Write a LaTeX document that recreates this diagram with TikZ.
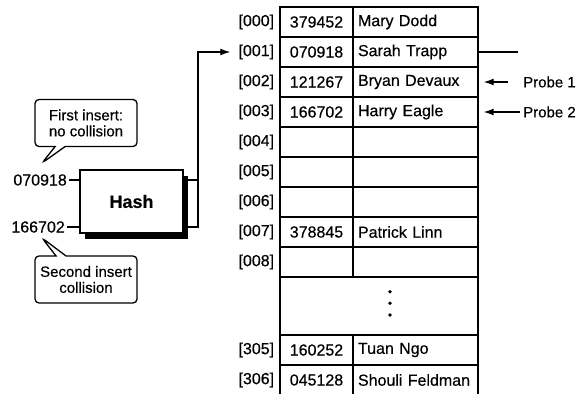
\documentclass[tikz,border=0pt]{standalone}
\usepackage{fontspec}
\setmainfont[FakeBold=0.4]{Liberation Sans}
\usetikzlibrary{arrows.meta,positioning,calc,shapes.callouts,shadows}
\tikzset{
  hscell/.style={draw, line width=1.4pt, minimum height=30pt, inner sep=0pt, font=\fontsize{16}{18}\selectfont},
  hsnum/.style={hscell, minimum width=73pt},
  hsname/.style={hscell, text width=115pt, inner xsep=5pt, align=left},
  hsidx/.style={inner sep=2pt, font=\fontsize{16}{18}\selectfont},
  hskey/.style={inner sep=2pt, font=\fontsize{16}{18}\selectfont},
  hsbox/.style={draw, fill=white, line width=1.4pt, minimum width=103pt, minimum height=63pt,
    font=\bfseries\fontsize{18}{20}\selectfont,
    drop shadow={shadow xshift=5pt, shadow yshift=-6pt, fill=black, opacity=1}},
  hsnote/.style={rectangle callout, draw, fill=white, line width=1.3pt, rounded corners=4pt,
    callout pointer width=10pt, minimum width=102pt, minimum height=47pt, align=center,
    inner sep=2pt, font=\fontsize{15}{16}\selectfont},
  hsarrow/.style={-{Latex[length=10pt,width=7pt]}, line width=1.3pt},
  hsline/.style={line width=1.3pt},
}

\begin{document}
\begin{tikzpicture}[x=1pt,y=-1pt]
  \useasboundingbox (0,0) rectangle (580,393);

  % hash table
  \node[hsnum] (num0) at (316.5,22) {379452};
  \node[hsname] (name0) at (415.5,22) {Mary Dodd};
  \node[hsnum] (num1) at (316.5,52) {070918};
  \node[hsname] (name1) at (415.5,52) {Sarah Trapp};
  \node[hsnum] (num2) at (316.5,82) {121267};
  \node[hsname] (name2) at (415.5,82) {Bryan Devaux};
  \node[hsnum] (num3) at (316.5,112) {166702};
  \node[hsname] (name3) at (415.5,112) {Harry Eagle};
  \node[hsnum] (num4) at (316.5,142) {};
  \node[hsname] (name4) at (415.5,142) {};
  \node[hsnum] (num5) at (316.5,172) {};
  \node[hsname] (name5) at (415.5,172) {};
  \node[hsnum] (num6) at (316.5,202) {};
  \node[hsname] (name6) at (415.5,202) {};
  \node[hsnum] (num7) at (316.5,232) {378845};
  \node[hsname] (name7) at (415.5,232) {Patrick Linn};
  \node[hsnum] (num8) at (316.5,262) {};
  \node[hsname] (name8) at (415.5,262) {};
  \node[hscell, minimum width=198pt, minimum height=58pt] (gap) at (379,306) {};
  \node[hsnum] (num305) at (316.5,350) {160252};
  \node[hsname] (name305) at (415.5,350) {Tuan Ngo};
  \node[hsnum] (num306) at (316.5,380) {045128};
  \node[hsname] (name306) at (415.5,380) {Shouli Feldman};

  \fill ($(gap.center)+(11,-14.3)$) circle (1.9pt);
  \fill ($(gap.center)+(11,-2.7)$) circle (1.9pt);
  \fill ($(gap.center)+(11,9)$) circle (1.9pt);

  % addresses
  \node[hsidx, left=3pt of num0] (idx0) {[000]};
  \node[hsidx, left=3pt of num1] (idx1) {[001]};
  \node[hsidx, left=3pt of num2] (idx2) {[002]};
  \node[hsidx, left=3pt of num3] (idx3) {[003]};
  \node[hsidx, left=3pt of num4] (idx4) {[004]};
  \node[hsidx, left=3pt of num5] (idx5) {[005]};
  \node[hsidx, left=3pt of num6] (idx6) {[006]};
  \node[hsidx, left=3pt of num7] (idx7) {[007]};
  \node[hsidx, left=3pt of num8] (idx8) {[008]};
  \node[hsidx, left=3pt of num305] (idx305) {[305]};
  \node[hsidx, left=3pt of num306] (idx306) {[306]};

  % hash function
  \node[hsbox] (hash) at (131.5,201.5) {Hash};
  \node[hskey, anchor=east] (key1) at (69,180) {070918};
  \node[hskey, anchor=east] (key2) at (67,227) {166702};
  \draw[hsline] (key1) -- (key1 -| hash.west);
  \draw[hsline] (key2) -- (key2 -| hash.west);

  \coordinate (bus) at (198,52);
  \draw[hsline] (hash.east |- key1) -- (key1 -| bus);
  \draw[hsarrow, shorten >=6pt] (hash.east |- key2) -| (bus) -- (idx1.west);

  % callouts
  \coordinate (tip1) at (42,163);
  \coordinate (tip2) at (42,238);
  \node[hsnote, callout absolute pointer=(tip1)] (first) at (86,123) {First insert:\\no collision};
  \node[hsnote, callout absolute pointer=(tip2)] (second) at (86,279.5) {Second insert\\collision};

  % probes
  \coordinate (stub) at (518,52);
  \draw[hsline] (name1.east) -- (stub);
  \node[hskey, anchor=west, font=\fontsize{15}{16}\selectfont] (probe1) at (521,82) {Probe 1};
  \node[hskey, anchor=west, font=\fontsize{15}{16}\selectfont] (probe2) at (521,112) {Probe 2};
  \draw[hsarrow, shorten <=13pt, shorten >=5pt] (probe1.west) -- (name2.east);
  \draw[hsarrow, shorten <=1pt, shorten >=5pt] (probe2.west) -- (name3.east);
\end{tikzpicture}
\end{document}
